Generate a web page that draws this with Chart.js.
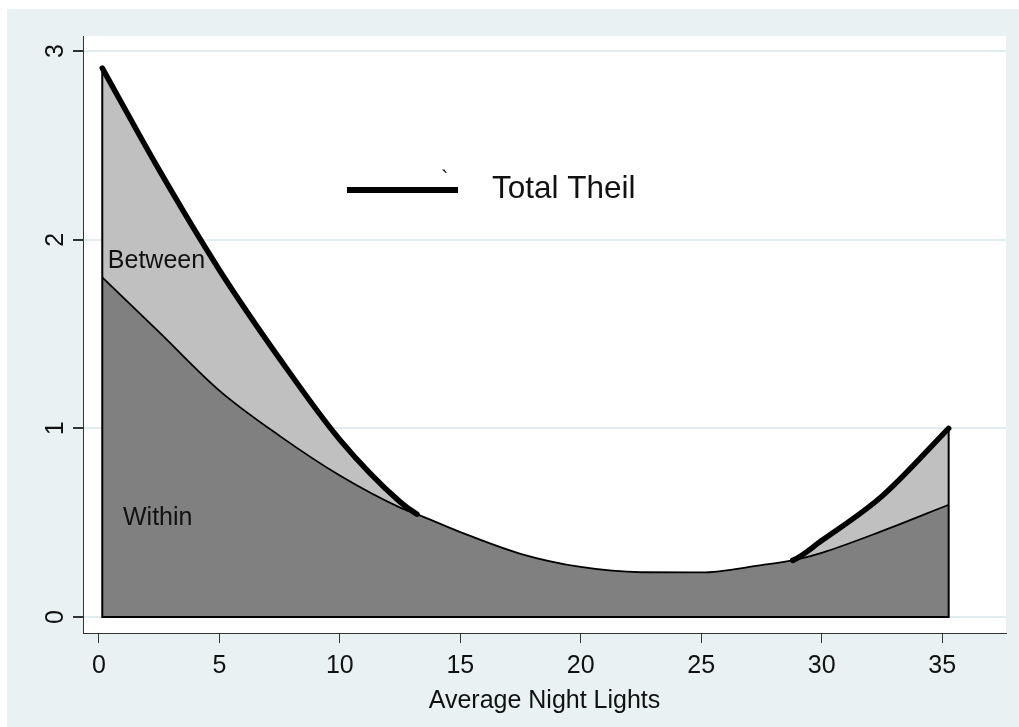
<!DOCTYPE html>
<html>
<head>
<meta charset="utf-8">
<script src="https://cdn.jsdelivr.net/npm/chart.js@4.4.1/dist/chart.umd.min.js"></script>
<style>
  html, body { margin: 0; padding: 0; background: #fff; }
  #wrap { width: 1019px; height: 727px; }
</style>
</head>
<body>
<div id="wrap"><canvas id="theilChart" width="1019" height="727"></canvas></div>
<script>
// values
const nightLights = [0.14, 2.5, 5, 7.5, 10, 12.5, 13.2, 15, 17.5, 20, 22.5, 25, 27.5, 28.8, 30, 32.5, 35.27];
const withinTheil = [1.80, 1.51, 1.20, 0.96, 0.75, 0.58, 0.545, 0.45, 0.335, 0.265, 0.237, 0.236, 0.275, 0.30, 0.34, 0.455, 0.595];
const totalTheil  = [2.91, 2.37, 1.84, 1.37, 0.94, 0.61, 0.545, 0.45, 0.335, 0.265, 0.237, 0.236, 0.275, 0.30, 0.405, 0.64, 1.00];
const xTicks = [0, 5, 10, 15, 20, 25, 30, 35];
const yTicks = [0, 1, 2, 3];
// text placed inside the plot (data coordinates)
const areaLabels = [
    { text: 'Between', x: 0.37, y: 1.85 },
    { text: 'Within', x: 1.0, y: 0.49 }
];

const FONT = '"Liberation Sans", Arial, Helvetica, sans-serif';
const BG = '#e9f1f3';

const toPts = (ys) => nightLights.map((x, i) => ({ x: x, y: ys[i] }));
const last = nightLights.length - 1;
const gap = (i) => totalTheil[i] - withinTheil[i] > 0.001;

const backgroundPlugin = {
    id: 'stataBackground',
    beforeDraw(chart) {
        const ctx = chart.ctx;
        const a = chart.chartArea;
        ctx.save();
        ctx.fillStyle = '#fff';
        ctx.fillRect(0, 0, chart.width, chart.height);
        ctx.fillStyle = BG;
        ctx.fillRect(7, 9, chart.width - 7, chart.height - 9);
        ctx.fillStyle = '#fff';
        ctx.fillRect(a.left, a.top, a.right - a.left, a.bottom - a.top);
        ctx.restore();
    }
};

const labelPlugin = {
    id: 'areaText',
    afterDatasetsDraw(chart) {
        const ctx = chart.ctx;
        const xs = chart.scales.x, ys = chart.scales.y;
        ctx.save();
        ctx.fillStyle = '#111';
        ctx.textBaseline = 'alphabetic';
        ctx.textAlign = 'left';
        ctx.font = '25px ' + FONT;
        areaLabels.forEach(function(l) {
            ctx.fillText(l.text, xs.getPixelForValue(l.x), ys.getPixelForValue(l.y));
        });
        // legend inside the plot
        const a = chart.chartArea;
        const lx = a.left + 264, ly = a.top + 154;
        ctx.strokeStyle = '#000';
        ctx.lineWidth = 6;
        ctx.beginPath();
        ctx.moveTo(lx, ly);
        ctx.lineTo(lx + 111, ly);
        ctx.stroke();
        ctx.font = '31.5px ' + FONT;
        ctx.fillText('Total Theil', lx + 145, ly + 8);
        ctx.font = '22px ' + FONT;
        ctx.fillText('`', lx + 94, ly - 4);
        ctx.restore();
    }
};

const theilCtx = document.getElementById('theilChart').getContext('2d');
const theilChart = new Chart(theilCtx, {
    type: 'line',
    data: {
        datasets: [{
            label: 'Total Theil',
            data: toPts(totalTheil),
            borderColor: '#000',
            borderWidth: 5.5,
            borderCapStyle: 'round',
            borderJoinStyle: 'round',
            cubicInterpolationMode: 'monotone',
            fill: false,
            pointRadius: 0,
            order: 0,
            segment: {
                borderColor: ctx => (gap(ctx.p0DataIndex) || gap(ctx.p1DataIndex)) ? '#000' : 'rgba(0,0,0,0)'
            }
        }, {
            label: 'edges',
            data: [
                { x: nightLights[0], y: totalTheil[0] }, { x: nightLights[0], y: 0 },
                { x: nightLights[last], y: 0 }, { x: nightLights[last], y: totalTheil[last] }
            ],
            borderColor: '#000',
            borderWidth: 2,
            tension: 0,
            fill: false,
            pointRadius: 0,
            order: 1
        }, {
            label: 'Within',
            data: toPts(withinTheil),
            borderColor: '#000',
            borderWidth: 1.8,
            backgroundColor: '#808080',
            cubicInterpolationMode: 'monotone',
            fill: 'origin',
            pointRadius: 0,
            order: 2
        }, {
            label: 'Between',
            data: toPts(totalTheil),
            borderColor: 'rgba(0,0,0,0)',
            borderWidth: 0,
            backgroundColor: '#c0c0c0',
            cubicInterpolationMode: 'monotone',
            fill: 'origin',
            pointRadius: 0,
            order: 3
        }]
    },
    options: {
        responsive: false,
        animation: false,
        devicePixelRatio: 1,
        layout: {
            padding: { left: 0, top: 36, right: 13, bottom: 0 }
        },
        plugins: {
            legend: { display: false },
            tooltip: { enabled: false }
        },
        scales: {
            x: {
                type: 'linear',
                min: -0.66,
                max: 37.65,
                afterBuildTicks: (scale) => { scale.ticks = xTicks.map(v => ({ value: v })); },
                afterFit: (scale) => { scale.height = 94; },
                grid: { drawOnChartArea: false, tickLength: 10, tickColor: '#333' },
                border: { color: '#333', width: 1 },
                ticks: {
                    color: '#111',
                    font: { family: FONT, size: 25 },
                    padding: 8,
                    maxRotation: 0,
                    minRotation: 0
                },
                title: {
                    display: true,
                    text: 'Average Night Lights',
                    color: '#111',
                    font: { family: FONT, size: 25 },
                    padding: { top: 0, bottom: 11 }
                }
            },
            y: {
                min: -0.085,
                max: 3.08,
                afterBuildTicks: (scale) => { scale.ticks = yTicks.map(v => ({ value: v })); },
                afterFit: (scale) => { scale.width = 83; },
                grid: { color: '#e3ecef', lineWidth: 2, tickLength: 10, tickColor: '#333' },
                border: { color: '#333', width: 1 },
                ticks: {
                    color: '#111',
                    font: { family: FONT, size: 25 },
                    padding: 10,
                    crossAlign: 'center',
                    minRotation: 90,
                    maxRotation: 90
                }
            }
        }
    },
    plugins: [backgroundPlugin, labelPlugin]
});
</script>
</body>
</html>
